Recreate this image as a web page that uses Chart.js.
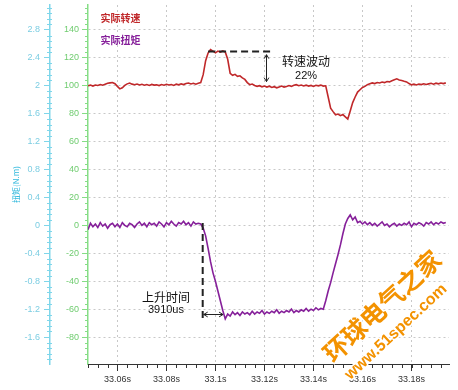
<!DOCTYPE html>
<html>
<head>
<meta charset="utf-8">
<title>实际转速 / 实际扭矩</title>
<script src="https://cdn.jsdelivr.net/npm/chart.js"></script>
<style>
  html, body { margin: 0; padding: 0; background: #fff; }
  #wrap { width: 458px; height: 390px; }
</style>
</head>
<body>
<div id="wrap"><canvas id="scopeChart" width="458" height="390"></canvas></div>
<script>
// scope capture, one sample per ms starting at 33.048 s
const sampleStart = 33.048;
const sampleStep = 0.001;

// 实际转速 (left green axis)
const speedValues = [
  100, 100.5, 99.8, 100.6, 100.2, 100.9, 100.4, 101.2, 101.8, 102.1,
  102.4, 101.5, 99.6, 97.8, 98.6, 100.3, 101.4, 102, 101.2, 100.8,
  101.3, 100.6, 101.1, 100.4, 100.9, 100.3, 101, 100.5, 100.7, 100.2,
  100.9, 100.4, 101.1, 100.6, 100.9, 100.3, 101.2, 100.7, 101.4, 100.9,
  101.6, 102, 101.3, 101.8, 101.2, 101.9, 102.3, 108, 118, 123.5,
  126, 124.8, 123.6, 124.9, 124.2, 125, 124.3, 119, 109, 107.5,
  108.2, 106.8, 107.2, 105.7, 104.6, 102.3, 100.8, 101.3, 100.2, 99.6,
  100.1, 99.3, 99.8, 99.1, 99.7, 98.8, 99.4, 98.6, 99.2, 99.8,
  99.1, 99.5, 100.2, 99.6, 100.4, 100.8, 100.1, 100.6, 99.9, 100.5,
  99.8, 100.3, 99.6, 100.4, 100, 100.5, 99.8, 100, 92, 84,
  81.5, 79.2, 79.8, 78.6, 79.4, 77.8, 76.2, 82, 88, 92,
  95.5, 97.2, 98.8, 99.6, 100.8, 101.5, 102.1, 101.6, 102.4, 102,
  102.7, 102.3, 103.1, 102.8, 103.6, 104.3, 105, 104.2, 103.8, 103.2,
  102.8, 101.6, 100.7, 101.2, 100.6, 101.3, 100.9, 101.5, 101, 101.4,
  101.8, 101.2, 101.9, 101.4, 102, 101.6, 102.1
];

// 实际扭矩 (outer cyan axis)
const torqueValues = [
  -0.06, 0.03, -0.02, 0.02, -0.03, 0.04, -0.01, 0.02, -0.04, 0.01,
  0.03, -0.02, 0.02, -0.03, 0.04, 0, -0.02, 0.03, 0.01, -0.03,
  0.02, 0.05, 0, 0.03, -0.02, 0.04, 0.01, 0.03, -0.01, 0.05,
  0.02, -0.02, 0.04, 0.01, 0.06, 0.02, -0.01, 0.04, 0.02, 0.06,
  0.01, 0.04, -0.01, 0.05, 0.02, 0.03, 0.02, -0.04, -0.15, -0.33,
  -0.52, -0.68, -0.8, -0.94, -1.08, -1.22, -1.34, -1.27, -1.3, -1.24,
  -1.28, -1.25, -1.29, -1.24, -1.27, -1.25, -1.28, -1.23, -1.27, -1.24,
  -1.26, -1.22, -1.27, -1.24, -1.26, -1.23, -1.25, -1.21, -1.26, -1.23,
  -1.25, -1.22, -1.24, -1.2, -1.25, -1.22, -1.24, -1.21, -1.23, -1.19,
  -1.23, -1.2, -1.22, -1.18, -1.21, -1.19, -1.2, -1.08, -0.94, -0.82,
  -0.68, -0.55, -0.42, -0.28, -0.12, 0.02, 0.1, 0.15, 0.08, 0.12,
  0.04, 0.06, 0.02, 0.05, 0.01, 0.04, 0, 0.03, -0.01, 0.02,
  0.05, 0, 0.02, -0.02, 0.01, 0.03, -0.01, 0.02, 0, 0.03,
  0.01, 0.05, -0.02, 0.03, 0.01, 0.04, 0.02, -0.01, 0.04, 0.02,
  0.05, 0.01, 0.04, 0.02, 0.05, 0.03, 0.04
];

const timeRange = [33.048, 33.1953];
const speedRange = [-99.3, 157.9];
const torqueRange = [-1.986, 3.158];   // same grid as speed, 20 rpm = 0.4 N.m

// callouts, in data units
const fluctuation = { from: 33.097, to: 33.1234, level: 124.5, arrowAt: 33.1207, arrowTop: 122.3, arrowBottom: 103,
                      labelAt: 33.137, labelLevels: [117.3, 107.1], text: ['转速波动', '22%'] };
const riseTime = { at: 33.0948, top: 0.034, bottom: -1.38, arrowTo: 33.1031, arrowLevel: -1.27,
                   labelAt: 33.0798, labelLevels: [-1.026, -1.21], text: ['上升时间', '3910us'] };

const CJK = '"Noto Sans CJK SC", sans-serif';
const SANS = '"Liberation Sans", Arial, sans-serif';
Chart.defaults.font.family = SANS;

const toPoints = vals => vals.map((v, i) => ({ x: +(sampleStart + i * sampleStep).toFixed(3), y: v }));

function openHead(ctx, x, y, dx, dy) {
  const s = 4;
  ctx.beginPath();
  ctx.moveTo(x - dx * s - dy * s * 0.6, y - dy * s + dx * s * 0.6);
  ctx.lineTo(x, y);
  ctx.lineTo(x - dx * s + dy * s * 0.6, y - dy * s - dx * s * 0.6);
  ctx.stroke();
}

function doubleArrow(ctx, x1, y1, x2, y2) {
  const len = Math.hypot(x2 - x1, y2 - y1), dx = (x2 - x1) / len, dy = (y2 - y1) / len;
  ctx.beginPath();
  ctx.moveTo(x1, y1);
  ctx.lineTo(x2, y2);
  ctx.stroke();
  openHead(ctx, x2, y2, dx, dy);
  openHead(ctx, x1, y1, -dx, -dy);
}

const overlay = {
  id: 'overlay',
  afterDraw(chart) {
    const { ctx, chartArea: a, scales: { x, y, y1 } } = chart;
    ctx.save();

    // minor ticks
    ctx.lineWidth = 1;
    ctx.strokeStyle = '#333';
    for (let k = 0; ; k++) {
      const t = timeRange[0] + k * 0.004;
      if (t > timeRange[1]) break;
      const px = Math.round(x.getPixelForValue(t)) + 0.5;
      ctx.beginPath(); ctx.moveTo(px, a.bottom); ctx.lineTo(px, a.bottom + 4); ctx.stroke();
    }
    for (let v = -96; v < speedRange[1]; v += 4) {
      if (v % 20 === 0) continue;
      const py = Math.round(y.getPixelForValue(v)) + 0.5;
      ctx.strokeStyle = '#86dd86';
      ctx.beginPath(); ctx.moveTo(a.left - 3, py); ctx.lineTo(a.left, py); ctx.stroke();
      ctx.strokeStyle = '#7fd6ea';
      ctx.beginPath(); ctx.moveTo(y1.right - 3, py); ctx.lineTo(y1.right + 2, py); ctx.stroke();
    }

    // legend text
    ctx.textBaseline = 'middle';
    ctx.textAlign = 'left';
    ctx.font = 'bold 10px ' + CJK;
    ctx.fillStyle = '#c0282a';
    ctx.fillText('实际转速', a.left + 12.5, a.top + 13);
    ctx.fillStyle = '#86209a';
    ctx.fillText('实际扭矩', a.left + 12.5, a.top + 35);

    // speed fluctuation callout
    ctx.strokeStyle = '#222';
    ctx.lineWidth = 2;
    ctx.setLineDash([7, 4]);
    const fy = y.getPixelForValue(fluctuation.level);
    ctx.beginPath();
    ctx.moveTo(x.getPixelForValue(fluctuation.from), fy);
    ctx.lineTo(x.getPixelForValue(fluctuation.to), fy);
    ctx.stroke();
    ctx.setLineDash([]);
    ctx.lineWidth = 1;
    const ax = Math.round(x.getPixelForValue(fluctuation.arrowAt)) + 0.5;
    doubleArrow(ctx, ax, y.getPixelForValue(fluctuation.arrowTop), ax, y.getPixelForValue(fluctuation.arrowBottom));
    ctx.fillStyle = '#111';
    ctx.textAlign = 'center';
    ctx.font = '12px ' + CJK;
    ctx.fillText(fluctuation.text[0], x.getPixelForValue(fluctuation.labelAt), y.getPixelForValue(fluctuation.labelLevels[0]));
    ctx.font = '11px ' + SANS;
    ctx.fillText(fluctuation.text[1], x.getPixelForValue(fluctuation.labelAt), y.getPixelForValue(fluctuation.labelLevels[1]));

    // rise time callout
    ctx.lineWidth = 2;
    ctx.setLineDash([7, 4]);
    const rx = x.getPixelForValue(riseTime.at);
    ctx.beginPath();
    ctx.moveTo(rx, y1.getPixelForValue(riseTime.top));
    ctx.lineTo(rx, y1.getPixelForValue(riseTime.bottom));
    ctx.stroke();
    ctx.setLineDash([]);
    ctx.lineWidth = 1;
    const ry = Math.round(y1.getPixelForValue(riseTime.arrowLevel)) + 0.5;
    doubleArrow(ctx, rx + 1, ry, x.getPixelForValue(riseTime.arrowTo), ry);
    ctx.font = '12px ' + CJK;
    ctx.fillText(riseTime.text[0], x.getPixelForValue(riseTime.labelAt), y1.getPixelForValue(riseTime.labelLevels[0]));
    ctx.font = '11px ' + SANS;
    ctx.fillText(riseTime.text[1], x.getPixelForValue(riseTime.labelAt), y1.getPixelForValue(riseTime.labelLevels[1]));

    // site watermark
    ctx.lineJoin = 'round';
    ctx.save();
    ctx.translate(382, 306);
    ctx.rotate(-42.8 * Math.PI / 180);
    ctx.font = 'bold 25px ' + CJK;
    ctx.strokeStyle = '#fff'; ctx.lineWidth = 3;
    ctx.strokeText('环球电气之家', 0, 0);
    ctx.fillStyle = '#f39200';
    ctx.fillText('环球电气之家', 0, 0);
    ctx.restore();
    ctx.save();
    ctx.translate(396, 332);
    ctx.rotate(-42.8 * Math.PI / 180);
    ctx.font = 'bold 16px ' + SANS;
    ctx.strokeStyle = '#fff'; ctx.lineWidth = 3;
    ctx.strokeText('www.51spec.com', 0, 0);
    ctx.fillStyle = '#f39200';
    ctx.fillText('www.51spec.com', 0, 0);
    ctx.restore();

    ctx.restore();
  }
};

new Chart(document.getElementById('scopeChart'), {
  type: 'line',
  data: {
    datasets: [{
      label: '实际转速',
      data: toPoints(speedValues),
      yAxisID: 'y',
      borderColor: '#c0282a',
      borderWidth: 1.6,
      pointRadius: 0,
      tension: 0
    }, {
      label: '实际扭矩',
      data: toPoints(torqueValues),
      yAxisID: 'y1',
      borderColor: '#86209a',
      borderWidth: 1.6,
      pointRadius: 0,
      tension: 0
    }]
  },
  options: {
    responsive: false,
    animation: false,
    devicePixelRatio: 1,
    layout: { padding: { top: 5, right: 9, left: 0, bottom: 0 } },
    plugins: {
      legend: { display: false },
      tooltip: { enabled: false }
    },
    scales: {
      x: {
        type: 'linear',
        min: timeRange[0],
        max: timeRange[1],
        ticks: {
          stepSize: 0.02,
          includeBounds: false,
          autoSkip: false,
          maxRotation: 0,
          padding: 3,
          color: '#333',
          font: { size: 9 },
          callback: v => +v.toFixed(2) + 's'
        },
        grid: { color: '#c8c8c8', tickLength: 7, tickColor: '#333' },
        border: { color: '#333', width: 1, dash: [2, 3] },
        afterFit: s => { s.height = 26; }
      },
      y: {
        position: 'left',
        weight: 0,
        min: speedRange[0],
        max: speedRange[1],
        ticks: {
          stepSize: 20,
          includeBounds: false,
          padding: 3,
          color: '#6fcc6f',
          font: { size: 9 },
          callback: v => Math.round(v)
        },
        grid: { color: '#c8c8c8', tickLength: 6, tickColor: '#86dd86' },
        border: { color: '#86dd86', width: 1.5, dash: [2, 3] },
        afterFit: s => { s.width = 38; s.paddingTop = 0; s.paddingBottom = 0; }
      },
      y1: {
        position: 'left',
        weight: 1,
        min: torqueRange[0],
        max: torqueRange[1],
        ticks: {
          stepSize: 0.4,
          includeBounds: false,
          padding: 4,
          color: '#7ccde2',
          font: { size: 9 },
          callback: v => String(+v.toFixed(1))
        },
        grid: { drawOnChartArea: false, tickLength: 6, tickColor: '#7fd6ea' },
        border: { color: '#7fd6ea', width: 1.5 },
        title: {
          display: true,
          text: '扭矩(N.m)',
          color: '#30b8dc',
          font: { size: 8, family: CJK },
          padding: { top: 11, bottom: 0 }
        },
        afterFit: s => { s.width = 50; s.paddingTop = 0; s.paddingBottom = 0; }
      }
    }
  },
  plugins: [overlay]
});
</script>
</body>
</html>
